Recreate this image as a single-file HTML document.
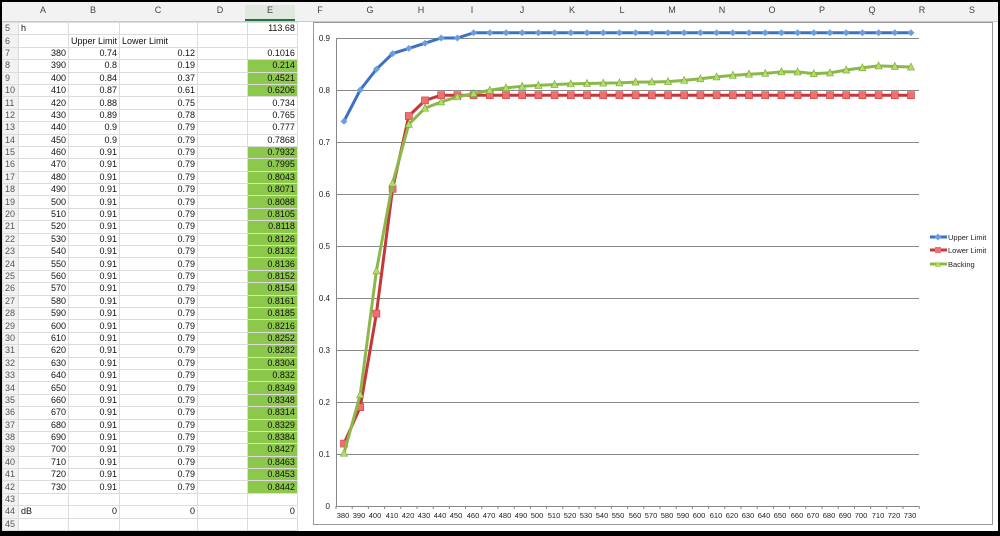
<!DOCTYPE html>
<html><head><meta charset="utf-8"><style>
body{margin:0;width:1000px;height:536px;overflow:hidden;background:#000;font-family:"Liberation Sans",sans-serif;}
#s{position:absolute;left:2px;top:2px;width:996px;height:529px;background:#fff;overflow:hidden}
.hdr{position:absolute;top:0;height:19px;background:#f2f2f2;border-bottom:1px solid #c8c8c8;width:996px}
.hl{position:absolute;top:3px;font-size:9px;color:#444;text-align:center;width:50px}
table{position:absolute;left:0;top:20px;border-collapse:collapse;font-size:9px;color:#111}
td{height:11.4px;padding:0 2px;border:1px solid #dcdcdc;white-space:nowrap;line-height:11px;text-align:right}
td.n{background:#f2f2f2;color:#555;text-align:left;width:11px}
td.g{background:#8cc84b}
</style></head><body><div id="s">
<div class="hdr"></div>
<div class="hl" style="left:16px">A</div><div class="hl" style="left:66px">B</div><div class="hl" style="left:118px;width:76px">C</div><div class="hl" style="left:193px">D</div><div class="hl" style="left:243px;background:#e0e8e0;border-bottom:2px solid #217346;height:14px">E</div><div class="hl" style="left:293px">F</div><div class="hl" style="left:343px">G</div><div class="hl" style="left:394px">H</div><div class="hl" style="left:445px">I</div><div class="hl" style="left:495px">J</div><div class="hl" style="left:545px">K</div><div class="hl" style="left:595px">L</div><div class="hl" style="left:645px">M</div><div class="hl" style="left:695px">N</div><div class="hl" style="left:745px">O</div><div class="hl" style="left:795px">P</div><div class="hl" style="left:845px">Q</div><div class="hl" style="left:895px">R</div><div class="hl" style="left:945px">S</div>
<table>
<colgroup><col style="width:15px"><col style="width:50px"><col style="width:50px"><col style="width:78px"><col style="width:50px"><col style="width:50px"><col style="width:50px"><col style="width:50px"><col style="width:50px"><col style="width:50px"><col style="width:50px"><col style="width:50px"><col style="width:50px"><col style="width:50px"><col style="width:50px"><col style="width:50px"><col style="width:50px"><col style="width:50px"><col style="width:50px"><col style="width:50px"></colgroup>
<tbody id="tb">
<tr><td class="n">5</td><td style="text-align:left">h</td><td></td><td></td><td></td><td>113.68</td></tr>
<tr><td class="n">6</td><td></td><td style="text-align:left">Upper Limit</td><td style="text-align:left">Lower Limit</td><td></td><td></td></tr>
<tr><td class="n">7</td><td>380</td><td>0.74</td><td>0.12</td><td></td><td>0.1016</td></tr>
<tr><td class="n">8</td><td>390</td><td>0.8</td><td>0.19</td><td></td><td class="g">0.214</td></tr>
<tr><td class="n">9</td><td>400</td><td>0.84</td><td>0.37</td><td></td><td class="g">0.4521</td></tr>
<tr><td class="n">10</td><td>410</td><td>0.87</td><td>0.61</td><td></td><td class="g">0.6206</td></tr>
<tr><td class="n">11</td><td>420</td><td>0.88</td><td>0.75</td><td></td><td>0.734</td></tr>
<tr><td class="n">12</td><td>430</td><td>0.89</td><td>0.78</td><td></td><td>0.765</td></tr>
<tr><td class="n">13</td><td>440</td><td>0.9</td><td>0.79</td><td></td><td>0.777</td></tr>
<tr><td class="n">14</td><td>450</td><td>0.9</td><td>0.79</td><td></td><td>0.7868</td></tr>
<tr><td class="n">15</td><td>460</td><td>0.91</td><td>0.79</td><td></td><td class="g">0.7932</td></tr>
<tr><td class="n">16</td><td>470</td><td>0.91</td><td>0.79</td><td></td><td class="g">0.7995</td></tr>
<tr><td class="n">17</td><td>480</td><td>0.91</td><td>0.79</td><td></td><td class="g">0.8043</td></tr>
<tr><td class="n">18</td><td>490</td><td>0.91</td><td>0.79</td><td></td><td class="g">0.8071</td></tr>
<tr><td class="n">19</td><td>500</td><td>0.91</td><td>0.79</td><td></td><td class="g">0.8088</td></tr>
<tr><td class="n">20</td><td>510</td><td>0.91</td><td>0.79</td><td></td><td class="g">0.8105</td></tr>
<tr><td class="n">21</td><td>520</td><td>0.91</td><td>0.79</td><td></td><td class="g">0.8118</td></tr>
<tr><td class="n">22</td><td>530</td><td>0.91</td><td>0.79</td><td></td><td class="g">0.8126</td></tr>
<tr><td class="n">23</td><td>540</td><td>0.91</td><td>0.79</td><td></td><td class="g">0.8132</td></tr>
<tr><td class="n">24</td><td>550</td><td>0.91</td><td>0.79</td><td></td><td class="g">0.8136</td></tr>
<tr><td class="n">25</td><td>560</td><td>0.91</td><td>0.79</td><td></td><td class="g">0.8152</td></tr>
<tr><td class="n">26</td><td>570</td><td>0.91</td><td>0.79</td><td></td><td class="g">0.8154</td></tr>
<tr><td class="n">27</td><td>580</td><td>0.91</td><td>0.79</td><td></td><td class="g">0.8161</td></tr>
<tr><td class="n">28</td><td>590</td><td>0.91</td><td>0.79</td><td></td><td class="g">0.8185</td></tr>
<tr><td class="n">29</td><td>600</td><td>0.91</td><td>0.79</td><td></td><td class="g">0.8216</td></tr>
<tr><td class="n">30</td><td>610</td><td>0.91</td><td>0.79</td><td></td><td class="g">0.8252</td></tr>
<tr><td class="n">31</td><td>620</td><td>0.91</td><td>0.79</td><td></td><td class="g">0.8282</td></tr>
<tr><td class="n">32</td><td>630</td><td>0.91</td><td>0.79</td><td></td><td class="g">0.8304</td></tr>
<tr><td class="n">33</td><td>640</td><td>0.91</td><td>0.79</td><td></td><td class="g">0.832</td></tr>
<tr><td class="n">34</td><td>650</td><td>0.91</td><td>0.79</td><td></td><td class="g">0.8349</td></tr>
<tr><td class="n">35</td><td>660</td><td>0.91</td><td>0.79</td><td></td><td class="g">0.8348</td></tr>
<tr><td class="n">36</td><td>670</td><td>0.91</td><td>0.79</td><td></td><td class="g">0.8314</td></tr>
<tr><td class="n">37</td><td>680</td><td>0.91</td><td>0.79</td><td></td><td class="g">0.8329</td></tr>
<tr><td class="n">38</td><td>690</td><td>0.91</td><td>0.79</td><td></td><td class="g">0.8384</td></tr>
<tr><td class="n">39</td><td>700</td><td>0.91</td><td>0.79</td><td></td><td class="g">0.8427</td></tr>
<tr><td class="n">40</td><td>710</td><td>0.91</td><td>0.79</td><td></td><td class="g">0.8463</td></tr>
<tr><td class="n">41</td><td>720</td><td>0.91</td><td>0.79</td><td></td><td class="g">0.8453</td></tr>
<tr><td class="n">42</td><td>730</td><td>0.91</td><td>0.79</td><td></td><td class="g">0.8442</td></tr>
<tr><td class="n">43</td><td></td><td></td><td></td><td></td><td></td></tr>
<tr><td class="n">44</td><td style="text-align:left">dB</td><td>0</td><td>0</td><td></td><td>0</td></tr>
<tr><td class="n">45</td><td></td><td></td><td></td><td></td><td></td></tr>
</tbody></table>
<svg id="ch" width="1000" height="536" style="position:absolute;left:-2px;top:-2px" font-family="Liberation Sans, sans-serif" font-size="8" fill="#222">
<rect x="313.5" y="22.5" width="679" height="502" fill="#fff" stroke="#999"/>
<g id="grid" stroke="#888" stroke-width="1"></g>
<g text-anchor="end">
<text x="330" y="41">0.9</text><text x="330" y="93">0.8</text><text x="330" y="145">0.7</text><text x="330" y="197">0.6</text><text x="330" y="249">0.5</text><text x="330" y="301">0.4</text><text x="330" y="353">0.3</text><text x="330" y="405">0.2</text><text x="330" y="457">0.1</text><text x="330" y="509">0</text>
</g>
<g text-anchor="middle" font-size="7.5">
<text x="343" y="518">380</text><text x="359" y="518">390</text><text x="375" y="518">400</text><text x="392" y="518">410</text><text x="408" y="518">420</text><text x="424" y="518">430</text><text x="440" y="518">440</text><text x="456" y="518">450</text><text x="473" y="518">460</text><text x="489" y="518">470</text><text x="505" y="518">480</text><text x="521" y="518">490</text><text x="537" y="518">500</text><text x="554" y="518">510</text><text x="570" y="518">520</text><text x="586" y="518">530</text><text x="602" y="518">540</text><text x="618" y="518">550</text><text x="635" y="518">560</text><text x="651" y="518">570</text><text x="667" y="518">580</text><text x="683" y="518">590</text><text x="699" y="518">600</text><text x="716" y="518">610</text><text x="732" y="518">620</text><text x="748" y="518">630</text><text x="764" y="518">640</text><text x="780" y="518">650</text><text x="797" y="518">660</text><text x="813" y="518">670</text><text x="829" y="518">680</text><text x="845" y="518">690</text><text x="861" y="518">700</text><text x="878" y="518">710</text><text x="894" y="518">720</text><text x="910" y="518">730</text>
</g>
<g id="ser"></g>
<g font-size="7.5">
<line x1="930" y1="237" x2="947" y2="237" stroke="#3d72c0" stroke-width="3"/><rect x="935.5" y="234.5" width="5" height="5" fill="#6a9ee0" transform="rotate(45 938 237)"/><text x="948" y="240">Upper Limit</text>
<line x1="930" y1="250" x2="947" y2="250" stroke="#c4383a" stroke-width="3"/><rect x="935" y="247" width="6" height="6" fill="#f07070"/><text x="948" y="253">Lower Limit</text>
<line x1="930" y1="264" x2="947" y2="264" stroke="#8cb84a" stroke-width="3"/><path d="M935 267L938 261L941 267Z" fill="#b0e060"/><text x="948" y="267">Backing</text>
</g>
</svg>
</div>
<script>
var g=document.getElementById('grid'),s='';
for(var i=1;i<=9;i++){var y=506-52*i+.5;s+='<line x1="336" y1="'+y+'" x2="919" y2="'+y+'"/>';}
s+='<line x1="336.5" y1="38" x2="336.5" y2="506"/><line x1="336" y1="506.5" x2="919" y2="506.5"/>';
for(i=0;i<=36;i++){var x=336+i*16.2;s+='<line x1="'+x+'" y1="506" x2="'+x+'" y2="509"/>';}
g.innerHTML=s;
var U=[.74,.8,.84,.87,.88,.89,.9,.9],L=[.12,.19,.37,.61,.75,.78],B=[.1016,.214,.4521,.6206,.734,.765,.777,.7868,.7932,.7995,.8043,.8071,.8088,.8105,.8118,.8126,.8132,.8136,.8152,.8154,.8161,.8185,.8216,.8252,.8282,.8304,.832,.8349,.8348,.8314,.8329,.8384,.8427,.8463,.8453,.8442];
while(U.length<36)U.push(.91);while(L.length<36)L.push(.79);
function X(i){return 344+i*16.2}function Y(v){return 506-520*v}
function line(d,c){var p=d.map(function(v,i){return X(i)+','+Y(v)}).join(' ');return '<polyline points="'+p+'" fill="none" stroke="'+c+'" stroke-width="3" stroke-linejoin="round"/>';}
var o='';
o+=line(L,'#c4383a');L.forEach(function(v,i){o+='<rect x="'+(X(i)-3.5)+'" y="'+(Y(v)-3.5)+'" width="7" height="7" fill="#f07070" stroke="#c84040" stroke-width=".6"/>';});
o+=line(B,'#8cb84a');B.forEach(function(v,i){var x=X(i),y=Y(v);o+='<path d="M'+(x-3.5)+' '+(y+3)+'L'+x+' '+(y-4)+'L'+(x+3.5)+' '+(y+3)+'Z" fill="#b0e060" stroke="#7aa040" stroke-width=".6"/>';});
o+=line(U,'#3d72c0');U.forEach(function(v,i){var x=X(i),y=Y(v);o+='<path d="M'+x+' '+(y-3.5)+'L'+(x+3.5)+' '+y+'L'+x+' '+(y+3.5)+'L'+(x-3.5)+' '+y+'Z" fill="#6a9ee0"/>';});
document.getElementById('ser').innerHTML=o;
</script>
</body></html>
